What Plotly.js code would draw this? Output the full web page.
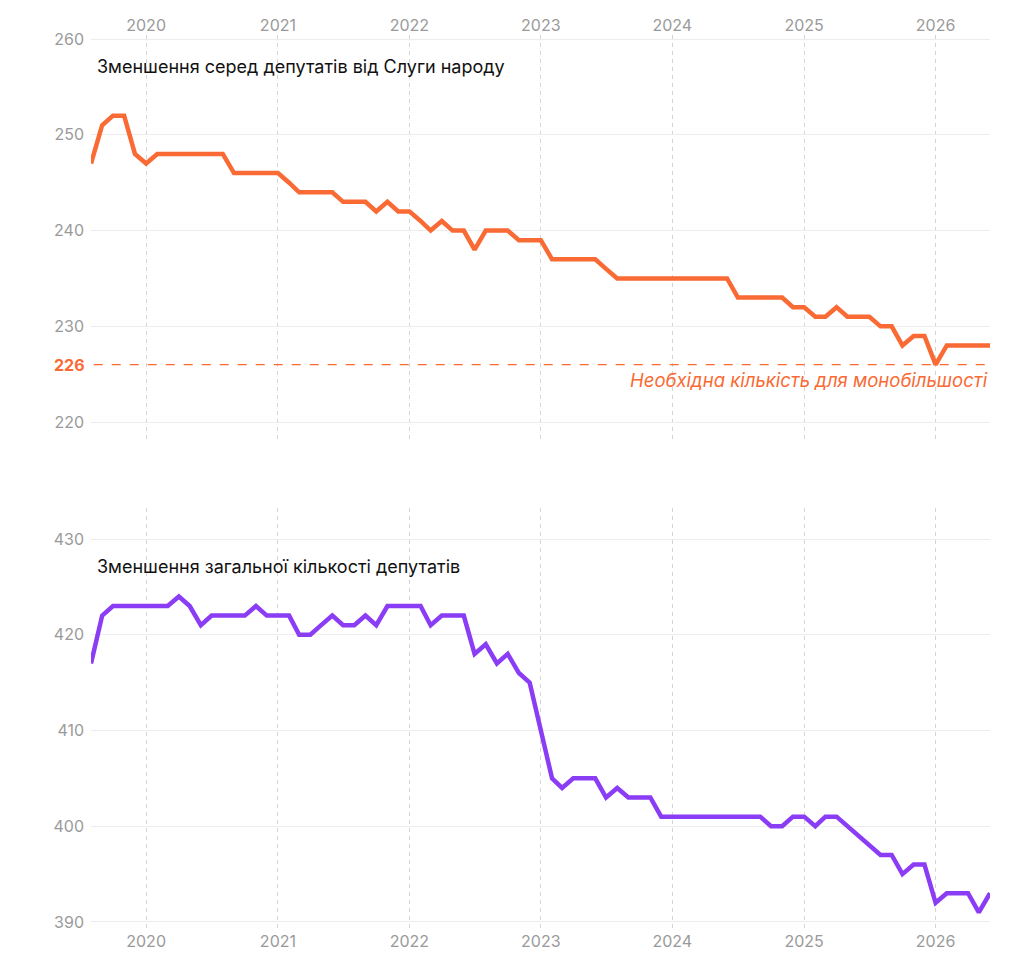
<!DOCTYPE html>
<html>
<head>
<meta charset="utf-8">
<script src="https://cdn.plot.ly/plotly-3.0.1.min.js"></script>
<style>body{margin:0;background:#fff}#chart{width:1032px;height:962px}</style>
</head>
<body>
<div id="chart"></div>
<script>
// monthly readings, Aug 2019 .. Jun 2026
const startYear = 2019, startMonth = 8;
const servantValues = [
  247, 251, 252, 252, 248,
  247, 248, 248, 248, 248, 248, 248, 248, 246, 246, 246, 246,
  246, 245, 244, 244, 244, 244, 243, 243, 243, 242, 243, 242,
  242, 241, 240, 241, 240, 240, 238, 240, 240, 240, 239, 239,
  239, 237, 237, 237, 237, 237, 236, 235, 235, 235, 235, 235,
  235, 235, 235, 235, 235, 235, 233, 233, 233, 233, 233, 232,
  232, 231, 231, 232, 231, 231, 231, 230, 230, 228, 229, 229,
  226, 228, 228, 228, 228, 228
];
const totalValues = [
  417, 422, 423, 423, 423,
  423, 423, 423, 424, 423, 421, 422, 422, 422, 422, 423, 422,
  422, 422, 420, 420, 421, 422, 421, 421, 422, 421, 423, 423,
  423, 423, 421, 422, 422, 422, 418, 419, 417, 418, 416, 415,
  410, 405, 404, 405, 405, 405, 403, 404, 403, 403, 403, 401,
  401, 401, 401, 401, 401, 401, 401, 401, 401, 400, 400, 401,
  401, 400, 401, 401, 400, 399, 398, 397, 397, 395, 396, 396,
  392, 393, 393, 393, 391, 393
];
const majorityLine = 226;
const topTitle = "Зменшення серед депутатів від Слуги народу";
const bottomTitle = "Зменшення загальної кількості депутатів";
const majorityLabel = "Необхідна кількість для монобільшості";

const months = servantValues.map((_, i) => {
  const m = startMonth - 1 + i;
  const y = startYear + Math.floor(m / 12);
  return `${y}-${String((m % 12) + 1).padStart(2, "0")}-01`;
});

const orange = "#fa6a35";
const purple = "#8b3cf5";
const tickFont = { family: "Inter, 'Open Sans', sans-serif", size: 16, color: "#9a9a9a" };

const xBase = {
  type: "date",
  range: ["2019-08-01", "2026-06-01"],
  dtick: "M12",
  tick0: "2020-01-01",
  tickformat: "%Y",
  showgrid: true,
  gridcolor: "#d4d4d4",
  griddash: "4px,4px",
  gridwidth: 1,
  zeroline: false,
  showline: false,
  ticks: "",
  tickfont: tickFont,
};

const yBase = {
  showgrid: true,
  gridcolor: "#ececec",
  zeroline: false,
  showline: false,
  ticks: "",
  ticklabelstandoff: 6,
  tickfont: tickFont,
  dtick: 10,
};

const traces = [
  { x: months, y: servantValues, type: "scatter", mode: "lines", cliponaxis: false, line: { color: orange, width: 4.5 }, xaxis: "x", yaxis: "y", hoverinfo: "x+y" },
  { x: months, y: totalValues, type: "scatter", mode: "lines", cliponaxis: false, line: { color: purple, width: 4.5 }, xaxis: "x2", yaxis: "y2", hoverinfo: "x+y" },
];

const layout = {
  width: 1032,
  height: 962,
  margin: { l: 91, r: 42, t: 35, b: 32 },
  paper_bgcolor: "#fff",
  plot_bgcolor: "#fff",
  showlegend: false,
  font: { family: "Inter, 'Open Sans', sans-serif" },
  xaxis: { ...xBase, side: "top", anchor: "y" },
  yaxis: { ...yBase, domain: [0.545, 1], range: [217.9, 260.42], tickvals: [220, 230, 240, 250, 260] },
  xaxis2: { ...xBase, anchor: "y2" },
  yaxis2: { ...yBase, domain: [0, 0.4715], range: [389.16, 433.24], tickvals: [390, 400, 410, 420, 430] },
  shapes: [
    { type: "line", xref: "paper", x0: 0.003, x1: 1, yref: "y", y0: majorityLine, y1: majorityLine, line: { color: orange, width: 1.3, dash: "dash" } },
  ],
  annotations: [
    { text: topTitle, xref: "paper", x: 0.005, yref: "y", y: 257.1, xanchor: "left", yanchor: "middle", showarrow: false, font: { size: 18, color: "#111" } },
    { text: bottomTitle, xref: "paper", x: 0.005, yref: "y2", y: 427.1, xanchor: "left", yanchor: "middle", showarrow: false, font: { size: 18, color: "#111" } },
    { text: "<b>" + majorityLine + "</b>", xref: "paper", x: -0.005, yref: "y", y: majorityLine, xanchor: "right", yanchor: "middle", showarrow: false, font: { size: 16, color: orange } },
    { text: "<i>" + majorityLabel + "</i>", xref: "paper", x: 1, yref: "y", y: 224.4, xanchor: "right", yanchor: "middle", showarrow: false, font: { size: 18.5, color: orange } },
  ],
};

Plotly.newPlot("chart", traces, layout, { displayModeBar: false, staticPlot: true });
</script>
</body>
</html>
